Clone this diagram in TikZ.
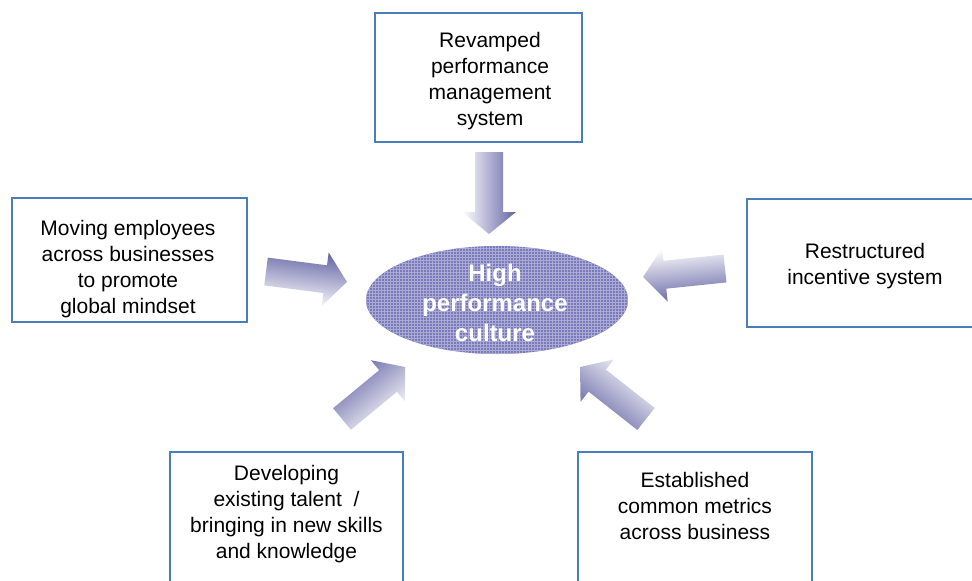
\documentclass[tikz,border=0pt]{standalone}
\usepackage{fontspec}
\setmainfont{Liberation Sans}
\usetikzlibrary{calc,patterns,shapes.geometric}
\definecolor{boxblue}{RGB}{74,126,187}
\definecolor{ellfill}{RGB}{122,122,184}
\definecolor{ellgrid}{RGB}{170,170,214}
\definecolor{arrowdark}{RGB}{100,100,165}
\tikzset{
  infobox/.style={draw=boxblue, line width=2pt, fill=white, inner sep=0pt},
  boxtext/.style={inner sep=0pt, align=center, font=\fontsize{21}{26}\selectfont},
  coretext/.style={inner sep=0pt, align=center, text=white, font=\fontsize{24}{30}\selectfont\bfseries},
  arrowshade/.style={top color=arrowdark, bottom color=white, draw=none},
}
\newcommand{\blockarrow}[3]{%
  \coordinate (#1b) at ($(#2)!22pt!(#1)$);
  \shade[arrowshade, shading angle=#3]
    ($(#1)!14pt!90:(#2)$) -- ($(#1b)!14pt!90:(#2)$) -- ($(#1b)!27pt!90:(#2)$)
    -- (#2) -- ($(#1b)!27pt!-90:(#2)$) -- ($(#1b)!14pt!-90:(#2)$)
    -- ($(#1)!14pt!-90:(#2)$) -- cycle;
}
\begin{document}
\begin{tikzpicture}[x=1pt,y=-1pt]
\useasboundingbox (0,0) rectangle (972,581);
% boxes
\node[infobox, minimum width=207pt, minimum height=129pt] (topbox) at (478.5,77.5) {};
\node[infobox, minimum width=235pt, minimum height=124pt] (leftbox) at (129.5,260) {};
\node[infobox, minimum width=238pt, minimum height=128pt] (rightbox) at (866,263) {};
\node[infobox, minimum width=233pt, minimum height=132pt] (blbox) at (286.5,518) {};
\node[infobox, minimum width=234pt, minimum height=132pt] (brbox) at (695,518) {};
% texts
\node[boxtext] (toptext) at (490,81) {Revamped\\performance\\management\\system};
\node[boxtext] (lefttext) at (128,269) {Moving employees\\across businesses\\to promote\\global mindset};
\node[boxtext] (righttext) at (865,266) {Restructured\\incentive system};
\node[boxtext] (bltext) at (286.5,514) {Developing\\existing talent \ /\\bringing in new skills\\and knowledge};
\node[boxtext] (brtext) at (695,506) {Established\\common metrics\\across business};
% core ellipse
\node[ellipse, fill=ellfill, minimum width=262pt, minimum height=108pt, inner sep=0pt,
      postaction={pattern=grid, pattern color=ellgrid}] (core) at (497,300) {};
\node[coretext] (coretxt) at (495,302.5) {High\\performance\\culture};
% arrows
\coordinate (ta) at (489,152); \coordinate (pa) at (489,234);
\coordinate (tb) at (266,271.5); \coordinate (pb) at (347,282);
\coordinate (tc) at (725,268.5); \coordinate (pc) at (643,277);
\coordinate (td) at (342,419); \coordinate (pd) at (405,367);
\coordinate (te) at (646,419); \coordinate (pe) at (580,367);
\blockarrow{ta}{pa}{-90}
\blockarrow{tb}{pb}{-7.4}
\blockarrow{tc}{pc}{185.9}
\blockarrow{td}{pd}{39}
\blockarrow{te}{pe}{141.8}
\end{tikzpicture}
\end{document}
